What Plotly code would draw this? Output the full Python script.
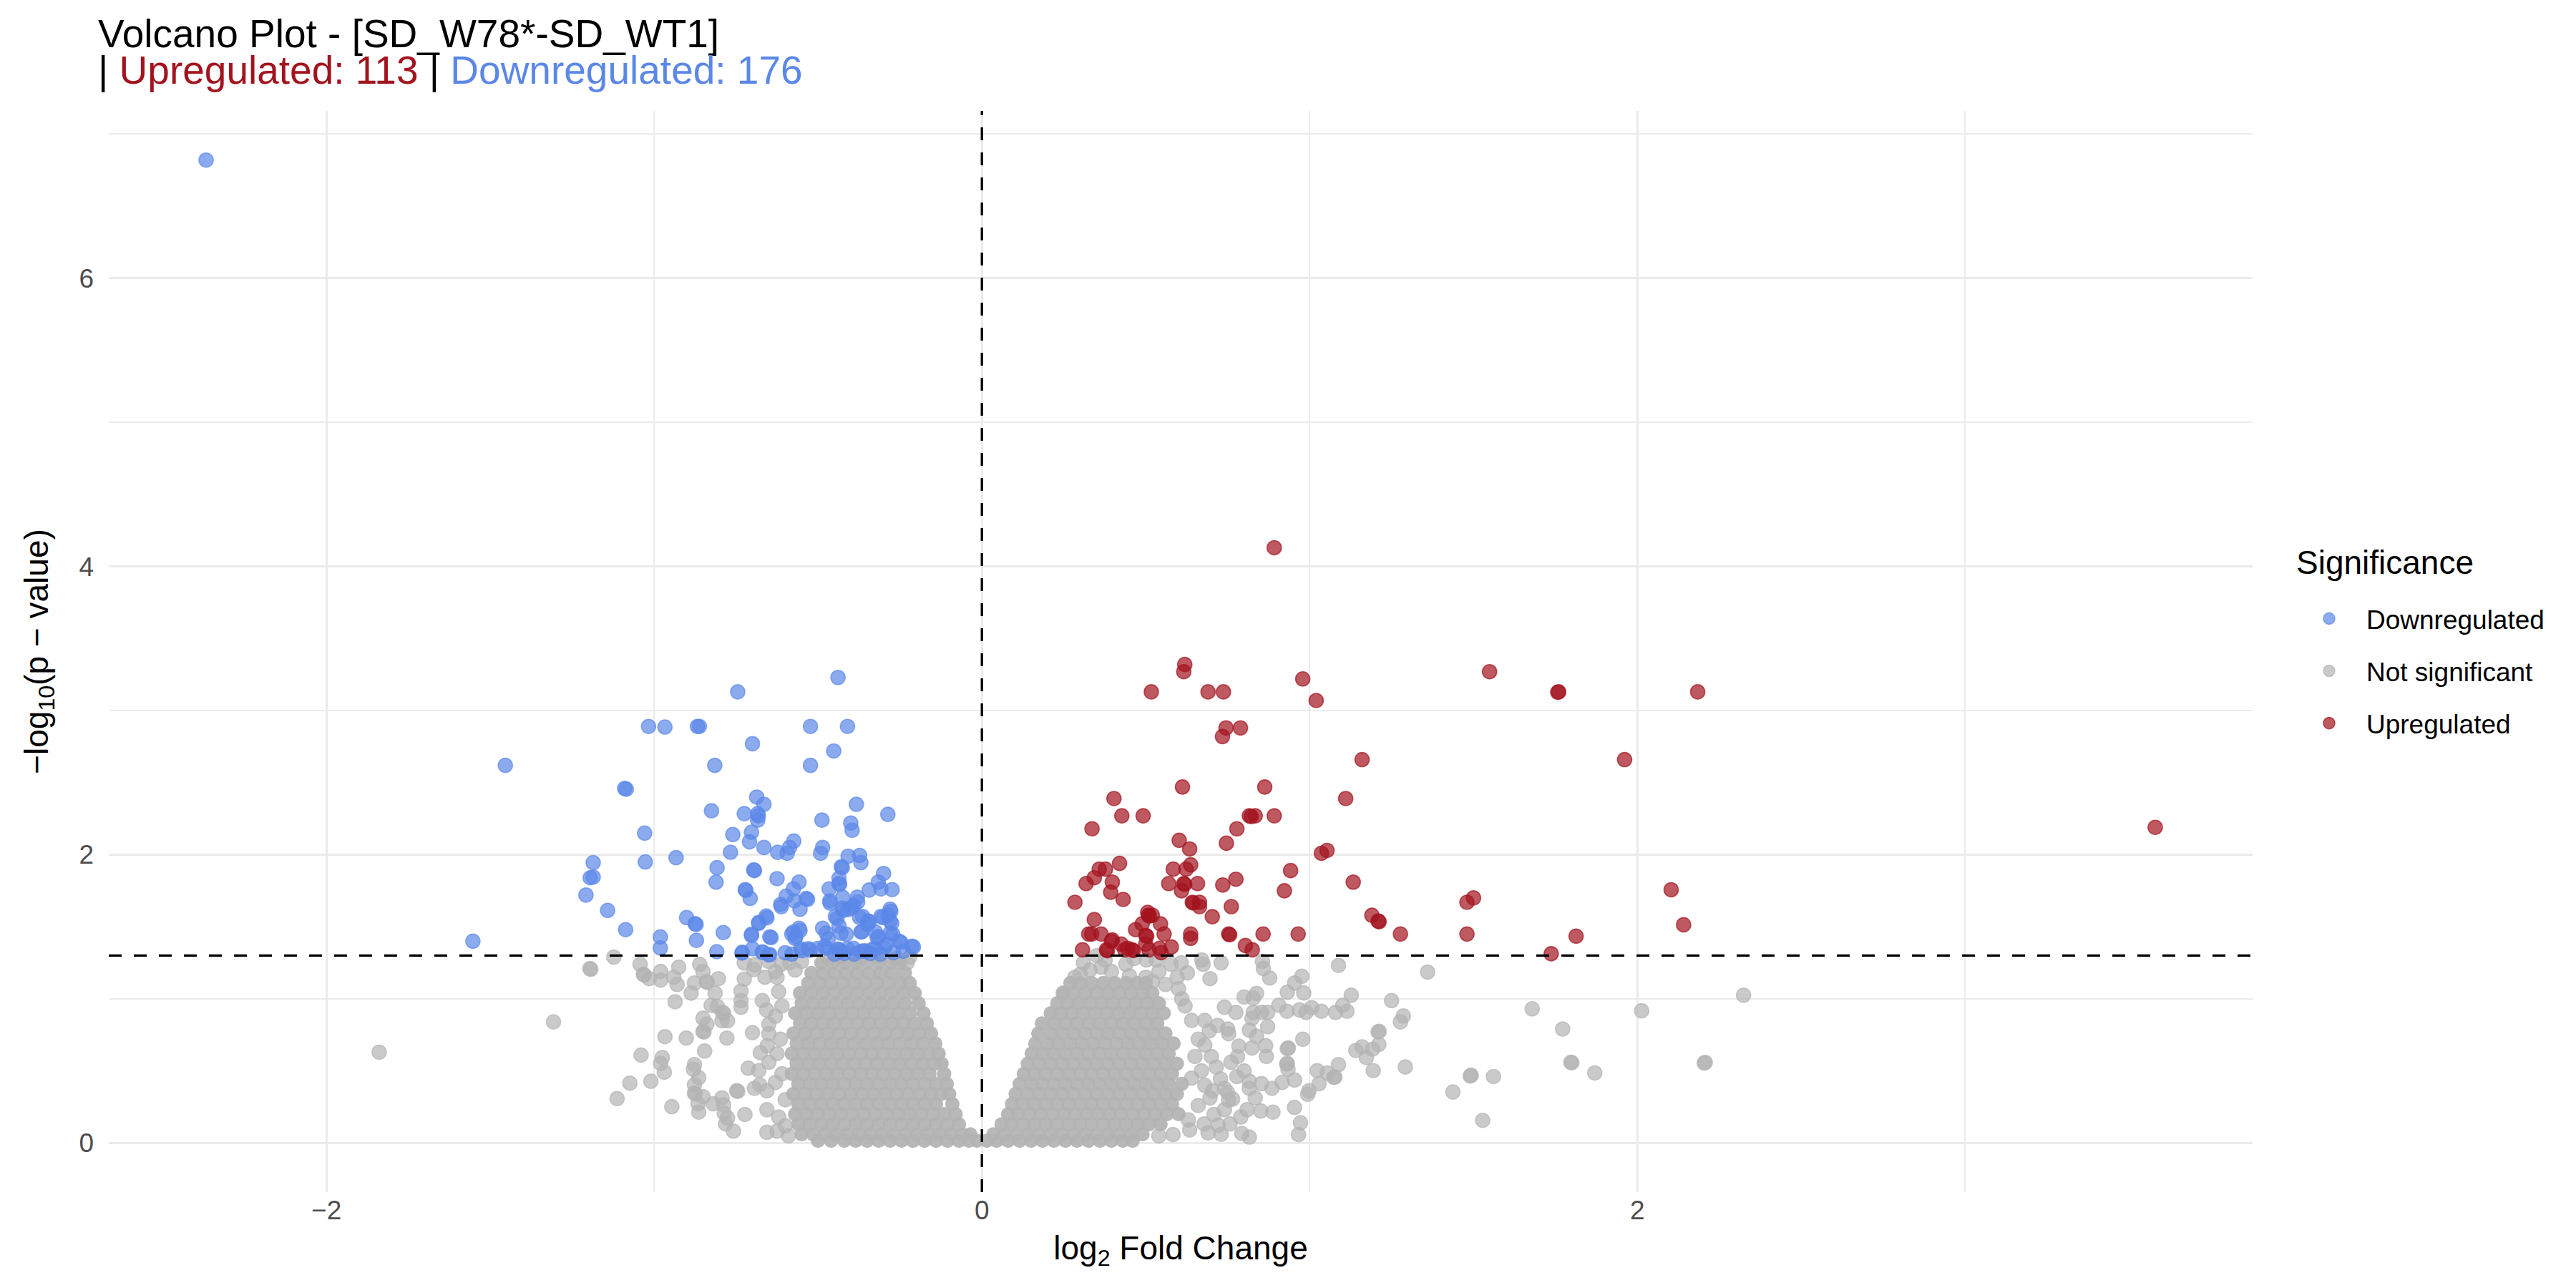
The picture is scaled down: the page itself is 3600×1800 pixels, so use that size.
import plotly.graph_objects as go

# ---------------- data ----------------
down_pts = [
    (-2.367, 6.82),
    (-0.439, 3.23), (-0.745, 3.13), (-1.017, 2.89), (-0.967, 2.886), (-0.868, 2.89), (-0.862, 2.89),
    (-0.523, 2.89), (-0.41, 2.89), (-0.70, 2.77), (-0.452, 2.72), (-1.454, 2.62), (-0.815, 2.62),
    (-0.523, 2.62), (-1.09, 2.46), (-1.085, 2.455), (-0.687, 2.40), (-0.665, 2.35), (-0.825, 2.305),
    (-0.725, 2.285), (-0.684, 2.285), (-0.682, 2.27), (-0.684, 2.24), (-0.383, 2.35), (-0.287, 2.28),
    (-0.488, 2.24), (-0.40, 2.22), (-0.396, 2.17), (-1.029, 2.15), (-0.76, 2.14), (-0.703, 2.156),
    (-0.709, 2.09), (-0.574, 2.095), (-0.665, 2.05), (-0.587, 2.05), (-0.594, 2.01), (-0.623, 2.017),
    (-0.767, 2.017), (-0.486, 2.05), (-0.492, 2.01), (-0.408, 1.99), (-0.373, 1.995), (-0.369, 1.945),
    (-1.186, 1.945), (-1.027, 1.95), (-0.933, 1.98), (-0.429, 1.917), (-0.426, 1.91), (-0.808, 1.91),
    (-0.696, 1.895), (-0.694, 1.89), (-1.195, 1.84), (-1.186, 1.845), (-0.30, 1.87), (-0.625, 1.834),
    (-0.811, 1.81), (-0.558, 1.81), (-0.436, 1.837), (-0.436, 1.80), (-0.434, 1.795), (-0.316, 1.81),
    (-0.344, 1.755), (-0.308, 1.763), (-0.274, 1.758), (-0.722, 1.758), (-0.72, 1.752), (-1.208, 1.72),
    (-0.575, 1.763), (-0.597, 1.713), (-0.536, 1.697), (-0.532, 1.69), (-0.572, 1.68), (-0.466, 1.763),
    (-0.464, 1.68), (-0.425, 1.705), (-0.38, 1.705), (-0.707, 1.697), (-0.614, 1.655), (-0.555, 1.622),
    (-0.425, 1.63), (-0.392, 1.647), (-0.408, 1.62), (-1.142, 1.614), (-0.28, 1.622), (-0.447, 1.572),
    (-0.364, 1.572), (-0.308, 1.572), (-0.286, 1.58), (-0.28, 1.54), (-0.658, 1.575), (-0.901, 1.564),
    (-0.875, 1.522), (-0.872, 1.516), (-0.681, 1.53), (-0.347, 1.54), (-0.343, 1.535), (-0.436, 1.506),
    (-1.087, 1.48), (-0.558, 1.49), (-0.575, 1.464), (-0.486, 1.49), (-0.475, 1.456), (-0.43, 1.456),
    (-0.414, 1.448), (-0.369, 1.464), (-0.325, 1.464), (-0.28, 1.456), (-0.789, 1.46), (-0.703, 1.448),
    (-0.647, 1.43), (-0.643, 1.425), (-0.57, 1.42), (-0.981, 1.43), (-1.553, 1.40), (-0.871, 1.406),
    (-0.253, 1.40), (-0.214, 1.365), (-0.469, 1.415), (-0.319, 1.423), (-0.292, 1.38), (-0.981, 1.353),
    (-0.809, 1.327), (-0.731, 1.323), (-0.70, 1.348), (-0.67, 1.323), (-0.647, 1.307), (-0.553, 1.348),
    (-0.53, 1.348), (-0.503, 1.348), (-0.48, 1.365), (-0.436, 1.34), (-0.432, 1.335), (-0.44, 1.345),
    (-0.41, 1.348), (-0.37, 1.33), (-0.325, 1.348), (-0.297, 1.356), (-0.549, 1.334), (-0.524, 1.338),
    (-0.474, 1.35), (-0.392, 1.35), (-0.36, 1.334), (-0.356, 1.33), (-0.335, 1.343), (-0.247, 1.392),
    (-0.209, 1.36), (-0.366, 1.466), (-0.348, 1.516), (-0.373, 1.565), (-0.272, 1.45), (-0.316, 1.433),
    (-0.303, 1.565), (-0.278, 1.606), (-0.275, 1.524), (-0.442, 1.557), (-0.423, 1.614), (-0.398, 1.63),
    (-0.379, 1.672), (-0.463, 1.664), (-0.612, 1.64), (-0.58, 1.45), (-0.568, 1.433), (-0.555, 1.474),
    (-0.681, 1.524), (-0.656, 1.562), (-0.703, 1.44), (-0.669, 1.326), (-0.732, 1.318), (-0.65, 1.305),
    (-0.60, 1.32), (-0.58, 1.31), (-0.45, 1.31), (-0.42, 1.315), (-0.39, 1.31), (-0.34, 1.315),
    (-0.31, 1.31), (-0.27, 1.32), (-0.24, 1.33),
]

up_pts = [
    (0.892, 4.13), (0.619, 3.32), (0.616, 3.27), (0.517, 3.13), (0.69, 3.13), (0.737, 3.13),
    (0.979, 3.22), (1.02, 3.07), (1.549, 3.27), (1.76, 3.13), (1.757, 3.128), (2.184, 3.13),
    (0.745, 2.88), (0.734, 2.82), (0.789, 2.88), (1.16, 2.66), (1.961, 2.66), (0.612, 2.47),
    (0.863, 2.47), (0.403, 2.39), (0.427, 2.27), (0.492, 2.27), (0.816, 2.27), (0.834, 2.27),
    (0.822, 2.265), (0.892, 2.27), (1.11, 2.39), (0.336, 2.18), (0.778, 2.18), (3.58, 2.19),
    (0.602, 2.10), (0.634, 2.04), (0.746, 2.08), (1.036, 2.01), (1.053, 2.03), (0.42, 1.94),
    (0.358, 1.90), (0.377, 1.90), (0.343, 1.84), (0.318, 1.80), (0.584, 1.90), (0.623, 1.90),
    (0.637, 1.93), (0.942, 1.89), (0.398, 1.81), (0.393, 1.74), (0.57, 1.80), (0.616, 1.80),
    (0.619, 1.795), (0.609, 1.75), (0.658, 1.80), (0.735, 1.79), (0.775, 1.83), (1.133, 1.81),
    (0.923, 1.75), (2.103, 1.757), (0.284, 1.67), (0.431, 1.69), (0.642, 1.67), (0.645, 1.665),
    (0.664, 1.67), (0.664, 1.64), (0.761, 1.64), (1.48, 1.67), (1.50, 1.70), (0.343, 1.55),
    (0.506, 1.60), (0.508, 1.58), (0.511, 1.575), (0.52, 1.58), (0.545, 1.52), (0.489, 1.52),
    (0.469, 1.48), (0.703, 1.57), (1.19, 1.58), (1.209, 1.54), (1.212, 1.535), (2.141, 1.514),
    (0.335, 1.45), (0.364, 1.45), (0.326, 1.45), (0.50, 1.44), (0.503, 1.435), (0.556, 1.45),
    (0.637, 1.45), (0.637, 1.42), (0.753, 1.45), (0.756, 1.445), (0.858, 1.45), (0.965, 1.45),
    (1.277, 1.45), (1.48, 1.45), (1.813, 1.435), (0.395, 1.40), (0.307, 1.34), (0.38, 1.34),
    (0.425, 1.38), (0.436, 1.34), (0.458, 1.34), (0.462, 1.335), (0.50, 1.38), (0.51, 1.34),
    (0.542, 1.35), (0.547, 1.32), (0.578, 1.36), (0.804, 1.37), (0.825, 1.34), (1.737, 1.313),
    (0.445, 1.35), (0.383, 1.334), (0.398, 1.409),
]

# dense core of non-significant genes, left lobe: one y level per row, x positions along the row
ns_left_rows_y = [0.015, 0.06, 0.13, 0.20, 0.27, 0.34, 0.41, 0.48, 0.55, 0.62,
                  0.69, 0.76, 0.83, 0.90, 0.97, 1.04, 1.11, 1.18, 1.25]
ns_left_rows_x = [
    [-0.50, -0.46, -0.42, -0.385, -0.35, -0.315, -0.28, -0.245, -0.21, -0.175, -0.14, -0.105, -0.07, -0.04, -0.015],
    [-0.55, -0.515, -0.48, -0.445, -0.41, -0.375, -0.34, -0.305, -0.27, -0.235, -0.2, -0.165, -0.13, -0.095, -0.06, -0.035],
    [-0.56, -0.525, -0.49, -0.455, -0.42, -0.385, -0.35, -0.315, -0.28, -0.245, -0.21, -0.175, -0.14, -0.105, -0.07],
    [-0.57, -0.535, -0.5, -0.465, -0.43, -0.395, -0.36, -0.325, -0.29, -0.255, -0.22, -0.185, -0.15, -0.115, -0.08],
    [-0.56, -0.525, -0.49, -0.455, -0.42, -0.385, -0.35, -0.315, -0.28, -0.245, -0.21, -0.175, -0.14, -0.09],
    [-0.575, -0.54, -0.505, -0.47, -0.435, -0.4, -0.365, -0.33, -0.295, -0.26, -0.225, -0.19, -0.155, -0.125, -0.10],
    [-0.56, -0.525, -0.49, -0.455, -0.42, -0.385, -0.35, -0.315, -0.28, -0.245, -0.21, -0.175, -0.14, -0.107],
    [-0.58, -0.545, -0.51, -0.475, -0.44, -0.405, -0.37, -0.335, -0.3, -0.265, -0.23, -0.195, -0.16, -0.115],
    [-0.565, -0.53, -0.495, -0.46, -0.425, -0.39, -0.355, -0.32, -0.285, -0.25, -0.215, -0.18, -0.145, -0.123],
    [-0.58, -0.545, -0.51, -0.475, -0.44, -0.405, -0.37, -0.335, -0.3, -0.265, -0.23, -0.195, -0.16, -0.132],
    [-0.565, -0.53, -0.495, -0.46, -0.425, -0.39, -0.355, -0.32, -0.285, -0.25, -0.215, -0.18, -0.142],
    [-0.575, -0.54, -0.505, -0.47, -0.435, -0.4, -0.365, -0.33, -0.295, -0.26, -0.225, -0.19, -0.155],
    [-0.555, -0.52, -0.485, -0.45, -0.415, -0.38, -0.345, -0.31, -0.275, -0.24, -0.205, -0.168],
    [-0.57, -0.535, -0.5, -0.465, -0.43, -0.395, -0.36, -0.325, -0.29, -0.255, -0.22, -0.178],
    [-0.55, -0.515, -0.48, -0.445, -0.41, -0.375, -0.34, -0.305, -0.27, -0.235, -0.193],
    [-0.555, -0.52, -0.485, -0.45, -0.415, -0.38, -0.345, -0.31, -0.275, -0.24, -0.205],
    [-0.53, -0.495, -0.46, -0.425, -0.39, -0.355, -0.32, -0.285, -0.25, -0.22],
    [-0.52, -0.485, -0.45, -0.415, -0.38, -0.345, -0.31, -0.275, -0.235],
    [-0.49, -0.455, -0.42, -0.385, -0.35, -0.315, -0.28, -0.25],
]

# dense core of non-significant genes, right lobe
ns_right_rows_y = [0.015, 0.06, 0.13, 0.20, 0.27, 0.34, 0.41, 0.48, 0.55,
                   0.62, 0.69, 0.76, 0.83, 0.90, 0.97, 1.04, 1.11]
ns_right_rows_x = [
    [0.015, 0.045, 0.08, 0.115, 0.15, 0.185, 0.22, 0.255, 0.29, 0.325, 0.36, 0.395, 0.43, 0.46],
    [0.035, 0.07, 0.105, 0.14, 0.175, 0.21, 0.245, 0.28, 0.315, 0.35, 0.385, 0.42, 0.455, 0.49],
    [0.06, 0.09, 0.125, 0.16, 0.195, 0.23, 0.265, 0.3, 0.335, 0.37, 0.405, 0.44, 0.475, 0.51, 0.545],
    [0.08, 0.11, 0.145, 0.18, 0.215, 0.25, 0.285, 0.32, 0.355, 0.39, 0.425, 0.46, 0.495, 0.53, 0.565, 0.6],
    [0.092, 0.125, 0.16, 0.195, 0.23, 0.265, 0.3, 0.335, 0.37, 0.405, 0.44, 0.475, 0.51, 0.545, 0.58],
    [0.103, 0.14, 0.175, 0.21, 0.245, 0.28, 0.315, 0.35, 0.385, 0.42, 0.455, 0.49, 0.525, 0.56, 0.595],
    [0.115, 0.15, 0.185, 0.22, 0.255, 0.29, 0.325, 0.36, 0.395, 0.43, 0.465, 0.5, 0.535, 0.57, 0.61],
    [0.128, 0.16, 0.195, 0.23, 0.265, 0.3, 0.335, 0.37, 0.405, 0.44, 0.475, 0.51, 0.545, 0.58],
    [0.14, 0.175, 0.21, 0.245, 0.28, 0.315, 0.35, 0.385, 0.42, 0.455, 0.49, 0.525, 0.56, 0.595],
    [0.152, 0.185, 0.22, 0.255, 0.29, 0.325, 0.36, 0.395, 0.43, 0.465, 0.5, 0.535, 0.57],
    [0.163, 0.2, 0.235, 0.27, 0.305, 0.34, 0.375, 0.41, 0.445, 0.48, 0.515, 0.55, 0.585],
    [0.172, 0.21, 0.245, 0.28, 0.315, 0.35, 0.385, 0.42, 0.455, 0.49, 0.525, 0.56],
    [0.183, 0.22, 0.255, 0.29, 0.325, 0.36, 0.395, 0.43, 0.465, 0.5, 0.535],
    [0.21, 0.24, 0.275, 0.31, 0.345, 0.38, 0.415, 0.45, 0.485, 0.52, 0.555],
    [0.23, 0.26, 0.295, 0.33, 0.365, 0.4, 0.435, 0.47, 0.505, 0.54],
    [0.25, 0.28, 0.315, 0.35, 0.385, 0.42, 0.455, 0.49, 0.52],
    [0.27, 0.3, 0.335, 0.37, 0.405, 0.44, 0.475, 0.5],
]

# scattered non-significant genes around the cores
ns_scatter_pts = [
    (-1.839, 0.63), (-1.307, 0.84), (-1.196, 1.21), (-1.193, 1.205), (-1.123, 1.29),
    (-1.043, 1.24), (-1.033, 1.17), (-1.03, 1.165), (-1.015, 1.14), (-0.98, 1.19), (-0.98, 1.13),
    (-0.94, 1.15), (-0.93, 1.10), (-0.925, 1.22), (-0.887, 1.04), (-0.936, 0.98), (-0.877, 1.11),
    (-0.861, 1.24), (-0.851, 1.19), (-0.841, 1.12), (-0.838, 1.115), (-0.804, 1.14), (-0.814, 1.04),
    (-0.826, 0.955), (-0.807, 0.947), (-0.791, 0.906), (-0.788, 0.90), (-0.793, 0.848), (-0.776, 0.848),
    (-0.851, 0.865), (-0.851, 0.774), (-0.848, 0.77), (-0.839, 0.824), (-0.778, 0.728), (-0.967, 0.738),
    (-0.902, 0.728), (-0.846, 0.638), (-1.04, 0.61), (-0.975, 0.593), (-0.98, 0.552), (-0.969, 0.491),
    (-0.877, 0.544), (-0.88, 0.511), (-0.864, 0.453), (-0.877, 0.404), (-1.074, 0.415), (-1.01, 0.428),
    (-1.113, 0.308), (-0.946, 0.252), (-0.877, 0.346), (-0.874, 0.34), (-0.851, 0.321), (-0.866, 0.272),
    (-0.864, 0.214), (-0.793, 0.313), (-0.82, 0.272), (-0.788, 0.264), (-0.786, 0.206), (-0.776, 0.173),
    (-0.782, 0.132), (-0.758, 0.082), (-0.723, 0.198), (-0.748, 0.362), (-0.745, 0.358), (-0.713, 0.519),
    (-0.681, 0.502), (-0.70, 0.766), (-0.735, 1.054), (-0.735, 0.988), (-0.735, 0.942), (-0.725, 1.137),
    (-0.696, 1.203), (-0.725, 1.249), (-0.693, 1.236), (-0.678, 0.404), (-0.694, 0.379), (-0.656, 0.362),
    (-0.656, 0.231), (-0.656, 0.074), (-0.625, 0.082), (-0.67, 0.988), (-0.657, 0.923), (-0.65, 0.824),
    (-0.65, 0.758), (-0.655, 0.675), (-0.676, 0.626), (-0.65, 0.56), (-0.662, 1.15), (-0.65, 1.26),
    (-0.63, 1.19), (-0.625, 1.15), (-0.612, 1.24), (-0.587, 1.25), (-0.62, 1.05), (-0.61, 0.95),
    (-0.63, 0.88), (-0.615, 0.72), (-0.625, 0.62), (-0.61, 0.48), (-0.63, 0.42), (-0.60, 0.30),
    (-0.62, 0.18), (-0.60, 0.12), (-0.59, 0.05), (-0.57, 1.20), (-0.55, 1.26), (-0.47, 1.28),
    (-0.43, 1.29), (-0.37, 1.285), (-0.31, 1.29), (-0.26, 1.28), (-0.22, 1.29), (-0.228, 1.25),
    (0.351, 1.30), (0.376, 1.27), (0.364, 1.22), (0.395, 1.19), (0.439, 1.24), (0.464, 1.28),
    (0.502, 1.27), (0.533, 1.27), (0.54, 1.19), (0.577, 1.24), (0.608, 1.25), (0.627, 1.18),
    (0.671, 1.27), (0.675, 1.24), (0.73, 1.25), (0.696, 1.14), (0.596, 1.15), (0.284, 1.15),
    (0.248, 1.04), (0.31, 1.25), (0.33, 1.20), (0.30, 1.17), (0.45, 1.16), (0.50, 1.15),
    (0.56, 1.10), (0.52, 1.12), (0.856, 1.26), (0.859, 1.21), (0.878, 1.145), (0.976, 1.157),
    (0.954, 1.11), (0.932, 1.046), (0.982, 1.041), (0.80, 1.013), (0.838, 1.038), (0.828, 1.005),
    (1.088, 1.232), (1.36, 1.186), (1.127, 1.025), (1.25, 0.988), (1.679, 0.931), (0.74, 0.942),
    (0.775, 0.906), (0.828, 0.906), (0.853, 0.906), (0.872, 0.906), (0.906, 0.956), (0.931, 0.914),
    (0.969, 0.923), (0.989, 0.906), (1.006, 0.939), (1.036, 0.914), (1.079, 0.906), (1.101, 0.956),
    (1.114, 0.914), (1.286, 0.881), (1.277, 0.84), (0.824, 0.865), (0.872, 0.807), (0.816, 0.783),
    (0.838, 0.741), (0.694, 0.778), (0.719, 0.815), (0.75, 0.791), (0.753, 0.758), (1.772, 0.791),
    (1.212, 0.774), (1.209, 0.77), (0.979, 0.72), (0.784, 0.672), (0.824, 0.659), (0.866, 0.675),
    (0.868, 0.601), (0.935, 0.659), (0.932, 0.655), (1.141, 0.642), (1.16, 0.667), (1.173, 0.593),
    (1.192, 0.651), (1.211, 0.684), (1.80, 0.557), (1.797, 0.56), (1.87, 0.486), (1.088, 0.544),
    (1.292, 0.527), (1.194, 0.502), (1.023, 0.502), (1.054, 0.486), (1.077, 0.458), (1.074, 0.455),
    (1.493, 0.47), (1.49, 0.465), (1.561, 0.461), (0.932, 0.552), (0.93, 0.548), (0.934, 0.511),
    (0.954, 0.437), (0.916, 0.42), (1.029, 0.412), (0.998, 0.362), (0.994, 0.338), (1.437, 0.354),
    (0.778, 0.461), (0.816, 0.428), (0.816, 0.379), (0.853, 0.412), (0.885, 0.379), (0.834, 0.313),
    (0.851, 0.222), (0.888, 0.214), (0.809, 0.231), (0.753, 0.297), (0.765, 0.305), (0.954, 0.247),
    (0.972, 0.14), (0.966, 0.058), (0.816, 0.041), (0.793, 0.066), (1.528, 0.157), (0.678, 0.132),
    (0.721, 0.124), (0.757, 0.132), (0.634, 0.091), (0.583, 0.058), (0.54, 0.049), (0.715, 0.527),
    (0.728, 0.445), (0.703, 0.362), (0.74, 0.379), (0.696, 0.313), (0.74, 0.231), (0.708, 0.198),
    (2.324, 1.025), (2.013, 0.917), (2.207, 0.559), (2.204, 0.555), (0.62, 0.95), (0.64, 0.85),
    (0.66, 0.72), (0.65, 0.60), (0.67, 0.50), (0.64, 0.45), (0.68, 0.40), (0.66, 0.26), (0.63, 0.16),
    (0.61, 1.00), (0.60, 1.07), (0.68, 0.85), (0.70, 0.60), (0.68, 0.68), (0.76, 0.56), (0.78, 0.60),
    (0.80, 0.50), (0.75, 0.35), (0.79, 0.18), (0.69, 0.07), (0.73, 0.06),
]

x_ticks = [-2, 0, 2]
y_ticks = [0, 2, 4, 6]
fc_cut = 0.0
p_cut = 1.301
n_up = 113
n_down = 176

# ---------------- build ----------------
FONT = "Liberation Sans, Arial, Helvetica, sans-serif"
GRAY = "rgba(179,179,179,0.7)"
GRAY_CORE = "rgba(179,179,179,0.93)"   # heavily overlapped core of the cloud
BLUE = "rgba(91,135,232,0.7)"
RED = "rgba(163,19,30,0.7)"

core_x, core_y = [], []
for yy, row in zip(ns_left_rows_y, ns_left_rows_x):
    core_x += row
    core_y += [yy] * len(row)
for yy, row in zip(ns_right_rows_y, ns_right_rows_x):
    core_x += row
    core_y += [yy] * len(row)
sc_x = [p[0] for p in ns_scatter_pts]
sc_y = [p[1] for p in ns_scatter_pts]

MS = 20


def mk(color):
    return dict(size=MS, color=color, line=dict(color=color, width=1.6))


fig = go.Figure()
fig.add_trace(go.Scatter(x=sc_x, y=sc_y, mode="markers", name="Not significant",
                         marker=mk(GRAY), legendrank=2, legendgroup="b"))
fig.add_trace(go.Scatter(x=core_x, y=core_y, mode="markers", name="Not significant",
                         marker=dict(size=MS, color=GRAY_CORE, line=dict(width=0)),
                         showlegend=False, legendgroup="b"))
fig.add_trace(go.Scatter(x=[p[0] for p in down_pts], y=[p[1] for p in down_pts], mode="markers",
                         name="Downregulated", marker=mk(BLUE), legendrank=1, legendgroup="a"))
fig.add_trace(go.Scatter(x=[p[0] for p in up_pts], y=[p[1] for p in up_pts], mode="markers",
                         name="Upregulated", marker=mk(RED), legendrank=3, legendgroup="c"))

dash = dict(color="black", width=3.3, dash="18px,17px")
fig.add_shape(type="line", xref="x", yref="y domain", x0=fc_cut, x1=fc_cut, y0=0, y1=1, line=dash, layer="above")
fig.add_shape(type="line", xref="x domain", yref="y", x0=0, x1=1, y0=p_cut, y1=p_cut, line=dash, layer="above")

axis_common = dict(
    showgrid=True, gridcolor="#EBEBEB", gridwidth=3.3, zeroline=False, showline=False,
    ticks="", tickfont=dict(family=FONT, size=37, color="#4D4D4D"),
    minor=dict(showgrid=True, gridcolor="#EBEBEB", gridwidth=1.7, ticks=""),
)

fig.update_layout(
    width=3600, height=1800,
    margin=dict(l=144, r=460, t=147, b=142),
    paper_bgcolor="white", plot_bgcolor="white",
    font=dict(family=FONT, color="black"),
    xaxis=dict(range=[-2.664, 3.877], tickmode="array", tickvals=x_ticks,
               title=dict(text="log<sub>2</sub> Fold Change", font=dict(size=46, family=FONT), standoff=16),
               **axis_common),
    yaxis=dict(range=[-0.341, 7.161], tickmode="array", tickvals=y_ticks, ticklabelstandoff=20,
               title=dict(text="−log<sub>10</sub>(p − value)", font=dict(size=46, family=FONT), standoff=28),
               **axis_common),
    legend=dict(
        font=dict(size=37, family=FONT),
        xref="container", yref="container", x=0.8875, y=0.5412, xanchor="left", yanchor="top",
        traceorder="grouped", tracegroupgap=22, itemwidth=94, bgcolor="rgba(0,0,0,0)",
    ),
)
fig.update_xaxes(minor=dict(tickmode="array", tickvals=[-1, 1, 3]))
fig.update_yaxes(minor=dict(tickmode="array", tickvals=[1, 3, 5, 7]))

# legend title
fig.add_annotation(xref="paper", yref="paper", x=1.0197, y=0.5824, xanchor="left", yanchor="middle",
                   showarrow=False, text="Significance", font=dict(size=46, family=FONT, color="black"))

# plot title (two lines)
fig.add_annotation(xref="paper", yref="paper", x=-0.0057, y=1.0718, xanchor="left", yanchor="middle",
                   showarrow=False, text="Volcano Plot - [SD_W78*-SD_WT1]",
                   font=dict(size=55, family=FONT, color="black"))
fig.add_annotation(xref="paper", yref="paper", x=-0.0057, y=1.0377, xanchor="left", yanchor="middle",
                   showarrow=False,
                   text=("| <span style='color:#A3131E'>Upregulated: %d</span> | "
                         "<span style='color:#5B87E8'>Downregulated: %d</span>") % (n_up, n_down),
                   font=dict(size=55, family=FONT, color="black"))

fig.write_html("out.html")
